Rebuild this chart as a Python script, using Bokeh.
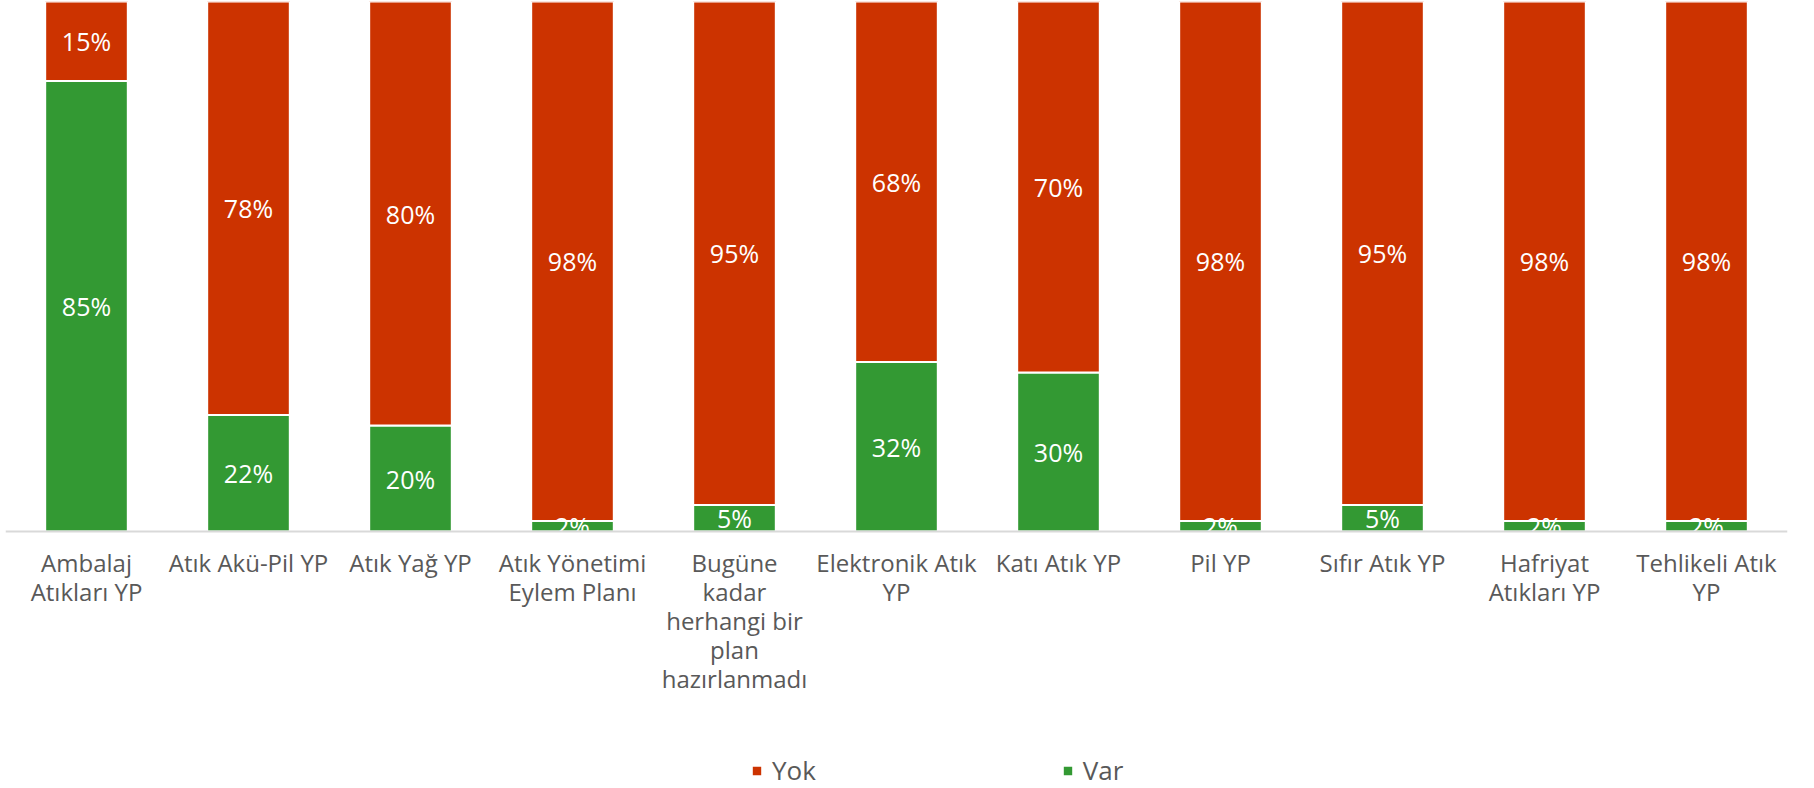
from bokeh.plotting import figure
from bokeh.models import ColumnDataSource, FactorRange, Range1d, Legend, LegendItem, Span
from bokeh.core.properties import value
from bokeh.embed import file_html
from bokeh.resources import INLINE

categories = ["Ambalaj Atıkları YP", "Atık Akü-Pil YP", "Atık Yağ YP", "Atık Yönetimi Eylem Planı",
              "Bugüne kadar herhangi bir plan hazırlanmadı", "Elektronik Atık YP", "Katı Atık YP",
              "Pil YP", "Sıfır Atık YP", "Hafriyat Atıkları YP", "Tehlikeli Atık YP"]
tick_labels = ["Ambalaj\nAtıkları YP", "Atık Akü-Pil YP", "Atık Yağ YP", "Atık Yönetimi\nEylem Planı",
               "Bugüne\nkadar\nherhangi bir\nplan\nhazırlanmadı", "Elektronik Atık\nYP", "Katı Atık YP",
               "Pil YP", "Sıfır Atık YP", "Hafriyat\nAtıkları YP", "Tehlikeli Atık\nYP"]
var = [85, 22, 20, 2, 5, 32, 30, 2, 5, 2, 2]
yok = [15, 78, 80, 98, 95, 68, 70, 98, 95, 98, 98]

RED = "#CC3300"
GREEN = "#339933"
GREY = "#595959"
FONT = "Open Sans"

# layout in pixels
BAR_AREA_PX = 530      # height of the 0..100 bar area
FRAME_PX = 787         # whole frame (bars + labels + legend)
PX = 100 / BAR_AREA_PX  # data units per pixel
y_bottom = -(FRAME_PX - BAR_AREA_PX) * PX

src = ColumnDataSource(dict(cat=categories, Var=var, Yok=yok,
                            var_mid=[v / 2 for v in var],
                            yok_mid=[v + y / 2 for v, y in zip(var, yok)],
                            var_lbl=[f"{v}%" for v in var],
                            yok_lbl=[f"{y}%" for y in yok]))

p = figure(x_range=FactorRange(*categories, range_padding=0, factor_padding=0),
           y_range=Range1d(y_bottom, 100),
           frame_width=1782, frame_height=FRAME_PX,
           output_backend="svg", toolbar_location=None,
           x_axis_location=None, y_axis_location=None,
           min_border_left=5, min_border_top=1, min_border_right=20, min_border_bottom=0)
p.outline_line_color = None
p.xgrid.grid_line_color = None
p.ygrid.grid_line_color = None

rs = p.vbar_stack(["Var", "Yok"], x="cat", width=0.51, source=src,
                  color=[GREEN, RED], line_color="white", line_width=2)

p.text(x="cat", y="var_mid", text="var_lbl", source=src, text_align="center", text_baseline="middle",
       text_color="white", text_font=value(FONT), text_font_size="25px")
p.text(x="cat", y="yok_mid", text="yok_lbl", source=src, text_align="center", text_baseline="middle",
       text_color="white", text_font=value(FONT), text_font_size="25px")

# category labels, one text glyph per wrapped line
lines = [t.split("\n") for t in tick_labels]
nlines = max(len(l) for l in lines)
for k in range(nlines):
    line_src = ColumnDataSource(dict(cat=categories,
                                     y=[-(31 + 29 * k) * PX] * len(categories),
                                     txt=[l[k] if k < len(l) else "" for l in lines]))
    p.text(x="cat", y="y", text="txt", source=line_src, text_align="center", text_baseline="alphabetic",
           text_color=GREY, text_font=value(FONT), text_font_size="24px")

# category axis line
p.add_layout(Span(location=0, dimension="width", line_color="#D9D9D9", line_width=2))

legend = Legend(items=[LegendItem(label="Yok", renderers=[rs[1]]),
                       LegendItem(label="Var", renderers=[rs[0]])],
                orientation="horizontal", location=(745, 0),
                label_text_font=FONT, label_text_font_size="26px", label_text_color=GREY,
                glyph_width=13, glyph_height=13, label_standoff=9, spacing=245,
                border_line_color=None, background_fill_alpha=0, margin=0, padding=0)
p.add_layout(legend, "center")

open("out.html", "w").write(file_html(p, INLINE))
